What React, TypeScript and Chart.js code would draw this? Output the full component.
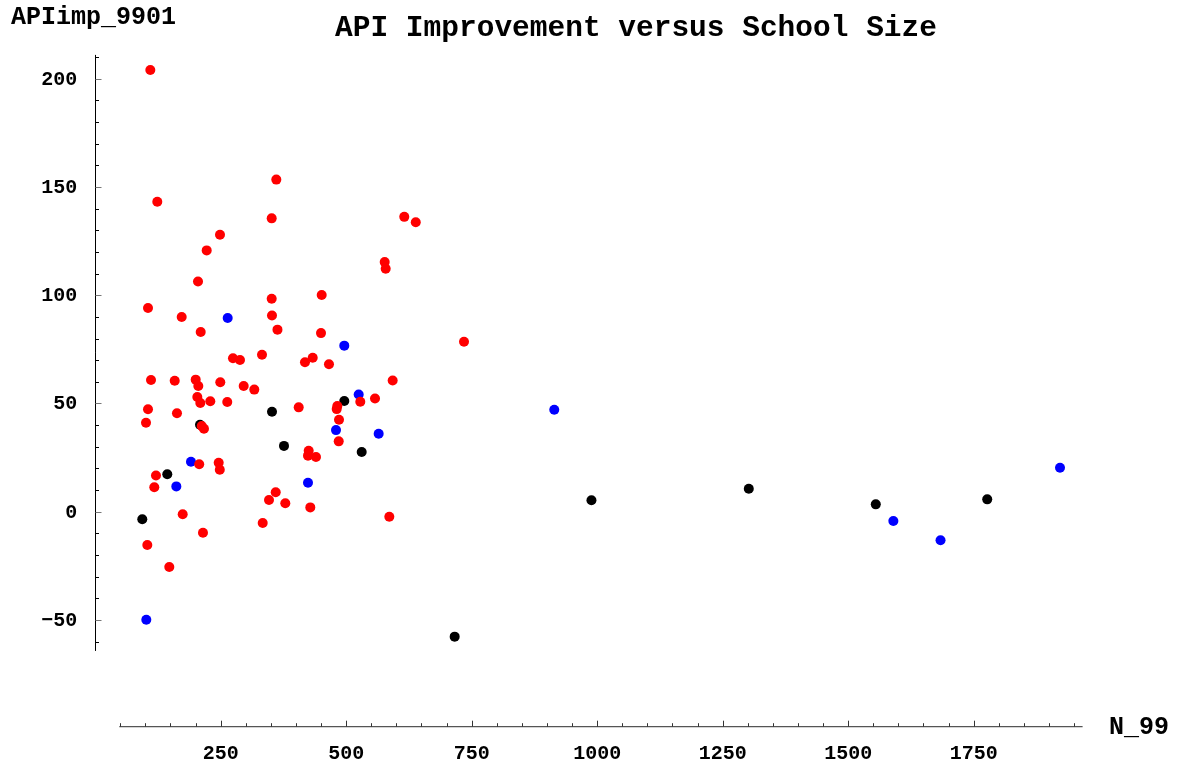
import React, { useEffect, useRef } from "react";
import { Chart, registerables } from "chart.js";

Chart.register(...registerables);

const redX = [109.8, 360.8, 123.7, 351.6, 248.6, 222.1, 204.8, 351.6, 105.2, 172.3, 352.2, 210.2, 363.1, 274.5, 288.4, 332.3, 111.2, 158.4, 200.2, 205.4, 249.2, 295.8, 316.9, 203.4, 209.4, 229.3, 263.1, 105.2, 162.9, 101.2, 212.2, 216.7, 207.2, 246.0, 248.2, 121.1, 117.7, 359.6, 346.2, 378.7, 174.3, 333.7, 214.7, 103.8, 147.6, 615.7, 638.6, 576.7, 578.7, 451.2, 449.8, 433.3, 417.9, 465.7, 592.6, 528.1, 557.4, 405.4, 482.3, 481.1, 485.7, 485.1, 425.3, 423.9, 439.8, 428.5, 585.9, 734.7];
const redY = [204.0, 153.4, 143.2, 135.5, 127.9, 120.7, 106.3, 98.4, 94.1, 89.9, 90.6, 83.0, 84.1, 70.9, 70.1, 72.5, 60.8, 60.5, 61.0, 58.1, 59.8, 58.1, 56.4, 53.0, 50.2, 51.0, 50.7, 47.3, 45.5, 41.1, 39.6, 38.3, 21.9, 22.6, 19.4, 16.7, 11.3, 9.0, 5.4, 3.9, -1.2, -5.2, -9.7, -15.4, -25.5, 136.2, 133.7, 115.3, 112.2, 100.1, 82.5, 71.1, 69.0, 68.1, 60.6, 50.8, 52.3, 48.2, 48.8, 47.4, 42.5, 32.5, 28.2, 25.9, 25.3, 2.0, -2.3, 78.5];

const blueX = [263.9, 190.8, 161.6, 101.8, 496.2, 524.9, 479.7, 564.7, 423.9, 914.5, 1590, 1684, 1922];
const blueY = [89.5, 23.1, 11.7, -49.9, 76.7, 54.1, 37.7, 36.0, 13.4, 47.1, -4.3, -13.2, 20.3];

const blackX = [352.2, 208.8, 376.1, 143.6, 93.8, 496.2, 530.9, 988.6, 716.1, 1302, 1555, 1777];
const blackY = [46.2, 40.2, 30.4, 17.3, -3.5, 51.1, 27.6, 5.3, -57.7, 10.6, 3.4, 5.7];

const xTickLabels = [250, 500, 750, 1000, 1250, 1500, 1750];
const yTickLabels = [-50, 0, 50, 100, 150, 200];

const TITLE = "API Improvement versus School Size";
const Y_LABEL = "APIimp_9901";
const X_LABEL = "N_99";

const FONT = '"Liberation Mono", "Courier New", monospace';

function pts(xs: number[], ys: number[]) {
  return xs.map((x, i) => ({ x, y: ys[i] }));
}

const axesPlugin = {
  id: "mathAxes",
  beforeDatasetsDraw(chart: any) {
    const ctx = chart.ctx;
    const xs = chart.scales.x;
    const ys = chart.scales.y;
    ctx.save();
    // Y axis
    const ax = Math.round(xs.getPixelForValue(0)) + 0.5;
    const yTop = ys.getPixelForValue(211);
    const yBot = ys.getPixelForValue(-64.3);
    ctx.strokeStyle = "#000";
    ctx.lineWidth = 1;
    ctx.beginPath();
    ctx.moveTo(ax, yTop);
    ctx.lineTo(ax, yBot);
    ctx.stroke();
    for (let v = -60; v <= 210; v += 10) {
      const p = Math.round(ys.getPixelForValue(v)) + 0.5;
      const major = v % 50 === 0;
      ctx.strokeStyle = major ? "#777" : "#000";
      ctx.beginPath();
      ctx.moveTo(ax, p);
      ctx.lineTo(ax + (major ? 6 : 3.5), p);
      ctx.stroke();
    }
    // X axis
    const ay = ys.getPixelForValue(-99.3);
    const xL = xs.getPixelForValue(48);
    const xR = xs.getPixelForValue(1967);
    ctx.strokeStyle = "#555";
    ctx.lineWidth = 1.2;
    ctx.beginPath();
    ctx.moveTo(xL, ay);
    ctx.lineTo(xR, ay);
    ctx.stroke();
    ctx.lineWidth = 1;
    for (let v = 50; v <= 1950; v += 50) {
      const p = Math.round(xs.getPixelForValue(v)) + 0.5;
      const major = v % 250 === 0;
      ctx.strokeStyle = "#333";
      ctx.beginPath();
      ctx.moveTo(p, ay);
      ctx.lineTo(p, ay - (major ? 6 : 3.5));
      ctx.stroke();
    }
    ctx.restore();
  },
  afterDraw(chart: any) {
    const ctx = chart.ctx;
    const xs = chart.scales.x;
    const ys = chart.scales.y;
    ctx.save();
    ctx.fillStyle = "#000";
    ctx.font = `bold 20px ${FONT}`;
    ctx.textAlign = "right";
    ctx.textBaseline = "middle";
    const ax = xs.getPixelForValue(0);
    yTickLabels.forEach((v) => {
      const label = v < 0 ? "\u2212" + Math.abs(v) : String(v);
      ctx.fillText(label, ax - 18, ys.getPixelForValue(v) + 1);
    });
    ctx.textAlign = "center";
    ctx.textBaseline = "alphabetic";
    xTickLabels.forEach((v) => {
      ctx.fillText(String(v), xs.getPixelForValue(v), 759);
    });
    ctx.textAlign = "left";
    ctx.font = `bold 25px ${FONT}`;
    ctx.fillText(Y_LABEL, 11, 24);
    ctx.fillText(X_LABEL, 1109, 734);
    ctx.textAlign = "center";
    ctx.font = `bold 29.5px ${FONT}`;
    ctx.fillText(TITLE, 636, 36);
    ctx.restore();
  },
};

export default function App() {
  const ref = useRef<HTMLCanvasElement>(null);
  useEffect(() => {
    if (!ref.current) return;
    const chart = new Chart(ref.current, {
      type: "scatter",
      data: {
        datasets: [
          {
            label: "red",
            data: pts(redX, redY),
            backgroundColor: "#ff0000",
            pointRadius: 5,
            borderWidth: 0,
            order: 0,
          },
          {
            label: "blue",
            data: pts(blueX, blueY),
            backgroundColor: "#0000ff",
            pointRadius: 5,
            borderWidth: 0,
            order: 1,
          },
          {
            label: "black",
            data: pts(blackX, blackY),
            backgroundColor: "#000000",
            pointRadius: 5,
            borderWidth: 0,
            order: 2,
          },
        ],
      },
      options: {
        responsive: false,
        animation: false,
        events: [],
        layout: { padding: { left: 95.2, right: 94.4, top: 54.9, bottom: 40.3 } },
        plugins: { legend: { display: false }, tooltip: { enabled: false }, title: { display: false } },
        scales: {
          x: { type: "linear", min: 0, max: 1967, display: false },
          y: { type: "linear", min: -99.3, max: 211, display: false },
        },
      },
      plugins: [axesPlugin],
    });
    return () => chart.destroy();
  }, []);
  return (
    <div style={{ position: "absolute", left: 0, top: 0, width: 1177, height: 767, background: "#fff" }}>
      <canvas ref={ref} width={1177} height={767} style={{ display: "block" }} />
    </div>
  );
}
